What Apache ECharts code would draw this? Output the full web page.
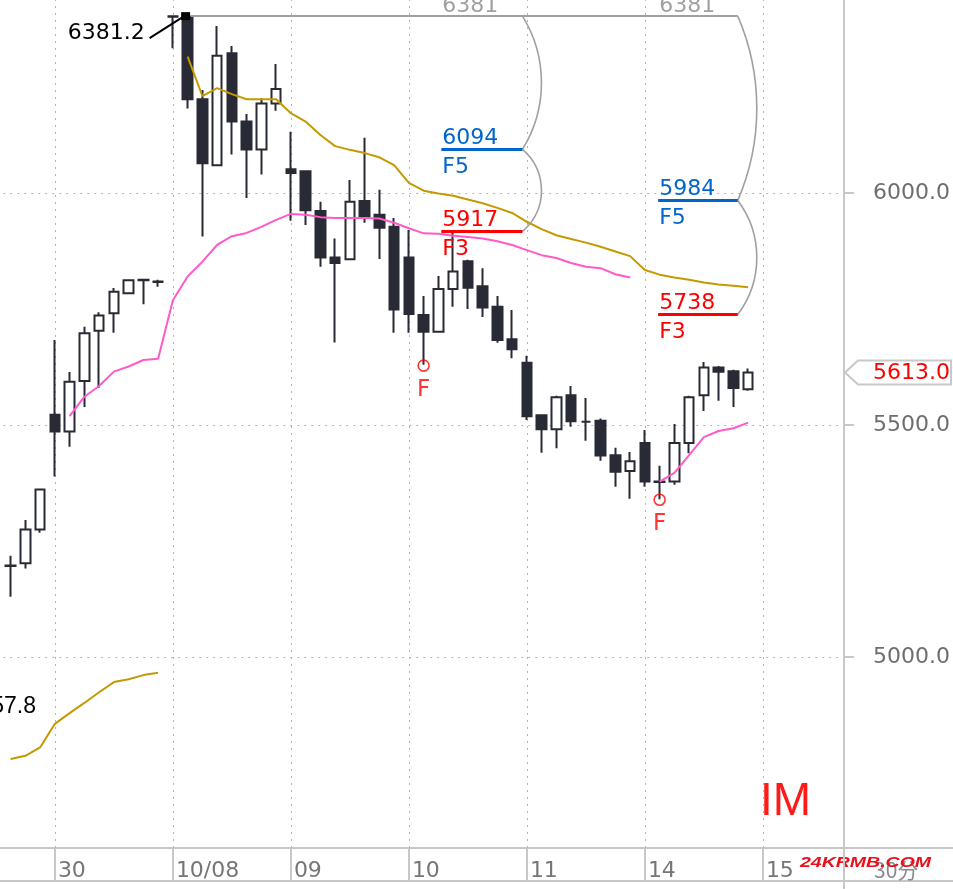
<!DOCTYPE html>
<html><head><meta charset="utf-8">
<script src="https://cdn.jsdelivr.net/npm/echarts@6/dist/echarts.min.js"></script>
<style>html,body{margin:0;padding:0;background:#fff}#c{width:953px;height:889px}</style>
</head><body><div id="c"></div>
<script>
// ---------- data ----------
const days = ['09/27','09/30','10/08','10/09','10/10','10/11','10/14','10/15'];
const barTimes = ['10:00','10:30','11:00','11:30','13:30','14:00','14:30','15:00'];
const dayTickLabels = ['', '30', '10/08', '09', '10', '11', '14', '15'];

const opens  = [5197,5202,5275, 5522,5486,5595,5703,5741,5784,5812,5809, 6381,6380,6202,6060,6301,6154,6094,6193, 6051,6047,5961,5861,5857,5983,5953,5927, 5861,5737,5701,5793,5853,5799,5755,5685, 5634,5521,5491,5564,5507,5509,5435,5401, 5461,5377,5378,5461,5564,5624,5616,5577];
const closes = [5196,5275,5361, 5486,5593,5698,5736,5787,5812,5813,5808, 6380,6202,6064,6296,6154,6094,6193,6224, 6043,5963,5861,5849,5981,5949,5925,5749, 5739,5701,5793,5831,5796,5753,5683,5663, 5519,5491,5560,5508,5507,5434,5399,5422, 5378,5378,5461,5560,5624,5615,5580,5613];
const lows   = [5130,5191,5268, 5389,5453,5539,5580,5699,5782,5760,5798, 6312,6182,5906,6058,6083,5989,6040,6177, 5940,5931,5841,5678,5856,5936,5858,5699, 5699,5630,5699,5755,5750,5733,5677,5644, 5511,5440,5450,5496,5466,5423,5367,5341, 5367,5340,5371,5439,5530,5552,5539,5574];
const highs  = [5218,5295,5362, 5683,5614,5712,5743,5795,5813,5814,5813, 6381,6381.2,6222,6360,6317,6170,6204,6278, 6132,6048,5981,5902,6028,6119,6007,5946, 5920,5778,5821,5918,5856,5838,5778,5748, 5649,5521,5563,5584,5558,5514,5451,5442, 5489,5412,5502,5563,5636,5627,5619,5622];

const maGold = [4780,4787,4805, 4856,4879,4901,4924,4946,4952,4961,4966, null,6294,6209,6226,6213,6202,6202,6202, 6172,6154,6125,6101,6093,6086,6077,6060, 6022,6005,5999,5994,5986,5978,5968,5957, 5938,5922,5909,5901,5893,5884,5874,5864, 5834,5824,5818,5813,5807,5803,5800,5797];
const maPink = [null,null,null, null,5519,5561,5584,5615,5626,5640,5643, 5769,5820,5852,5888,5907,5914,5927,5942, 5955,5953,5948,5946,5946,5946,5945,5936, 5924,5913,5912,5908,5905,5902,5896,5888, 5877,5866,5860,5849,5841,5838,5825,5818, null,5378,5397,5435,5474,5487,5493,5505];

const fMarkIdx = [28, 44];
const fMarkVal = [5628, 5339];

const fibStart = [29.2, 43.9];
const fibEnd   = [34.7, 49.3];
const fibF5    = [6094, 5984];
const fibF3    = [5917, 5738];

const yTicksMin = 4500, yTicksMax = 6500, yTickStep = 500;
const xAxisLineValue = 4588.4;
const offLeftLowLabel = '4857.8';

// ---------- build ----------
const FONT = '"DejaVu Sans", "Liberation Sans", sans-serif';
const FONT2 = '"Liberation Sans", Arial, sans-serif';
const categories = [];
const dayStartIdx = [];
const labelOf = {};
days.forEach((d, di) => {
  const times = di === 0 ? barTimes.slice(5) : (di === days.length - 1 ? barTimes.slice(0, 6) : barTimes);
  if (di > 0) { dayStartIdx.push(categories.length); labelOf[categories.length] = dayTickLabels[di]; }
  times.forEach(t => categories.push(d + ' ' + t));
});
const dayStartSet = new Set(dayStartIdx);
const candles = opens.map((o, i) => [o, closes[i], lows[i], highs[i]]);
let highIdx = 0; highs.forEach((h, i) => { if (h > highs[highIdx]) highIdx = i; });
const highVal = highs[highIdx];
const lastClose = closes[closes.length - 1];

function xAt(api, idx) {
  const k = Math.floor(idx);
  const bw = api.size([1, 0])[0];
  return api.coord([k, highVal])[0] + (idx - k) * bw;
}
function arcEl(x, ya, yb, s) {
  const c = yb - ya, R = (c * c / 4 + s * s) / (2 * s), cy = (ya + yb) / 2, cx = x + s - R;
  const th = Math.asin((c / 2) / R);
  return {type: 'arc', shape: {cx: cx, cy: cy, r: R, startAngle: -th, endAngle: th, clockwise: true},
          style: {stroke: '#a0a0a0', lineWidth: 1.6, fill: 'none'}};
}
function txt(x, y, text, color, size, align, fam) {
  return {type: 'text', x: x, y: y, style: {text: text, fill: color, fontSize: size, fontFamily: fam || FONT,
          align: align || 'left', verticalAlign: 'middle', textAlign: align || 'left', textVerticalAlign: 'middle'}};
}

const chart = echarts.init(document.getElementById('c'));
chart.setOption({
  animation: false,
  backgroundColor: '#ffffff',
  grid: {left: 3.25, right: 109, top: -39, bottom: 0, containLabel: false, outerBoundsMode: 'none'},
  xAxis: {
    type: 'category', data: categories, boundaryGap: true, offset: -41,
    axisLine: {show: false},
    axisTick: {show: true, alignWithLabel: true, length: 33, interval: (i) => dayStartSet.has(i),
               lineStyle: {color: '#c8c8c8', width: 2}},
    axisLabel: {show: true, interval: (i) => dayStartSet.has(i), formatter: (v, i) => labelOf[i] || '',
                align: 'left', padding: [0, 0, 0, 3], margin: 12, color: '#767676', fontSize: 22, fontFamily: FONT},
    splitLine: {show: false}
  },
  yAxis: {
    type: 'value', position: 'right', min: yTicksMin, max: yTicksMax, interval: yTickStep,
    axisLine: {show: true, lineStyle: {color: '#c8c8c8', width: 2}},
    axisTick: {show: true, length: 10, lineStyle: {color: '#c8c8c8', width: 2}},
    axisLabel: {margin: 29, color: '#6e6e6e', fontSize: 22, fontFamily: FONT,
                formatter: (v) => v.toFixed(1), showMinLabel: false, showMaxLabel: false},
    splitLine: {show: true, lineStyle: {color: '#b4b4b4', type: [2, 5], width: 1}}
  },
  graphic: [
    {type: 'line', shape: {x1: 0, y1: 848, x2: 953, y2: 848}, style: {stroke: '#c8c8c8', lineWidth: 2}},
    {type: 'line', shape: {x1: 0, y1: 881, x2: 953, y2: 881}, style: {stroke: '#c8c8c8', lineWidth: 2}},
    {type: 'text', x: 36, y: 707, style: {text: offLeftLowLabel, fill: '#000', fontSize: 23, fontFamily: FONT2, align: 'right', verticalAlign: 'middle', textAlign: 'right', textVerticalAlign: 'middle'}},
    {type: 'text', x: 760, y: 802, style: {text: 'IM', fill: '#ff1a1a', fontSize: 46, fontFamily: FONT2, align: 'left', verticalAlign: 'middle', textAlign: 'left', textVerticalAlign: 'middle'}},
    {type: 'text', x: 874, y: 870, style: {text: '30分', fill: '#8a8a8a', fontSize: 21, fontFamily: '"Noto Sans CJK SC", sans-serif', align: 'left', verticalAlign: 'middle', textAlign: 'left', textVerticalAlign: 'middle'}},
    {type: 'text', x: 800, y: 863, scaleX: 1.3, style: {text: '24KRMB.COM', fill: '#e8101a', fontSize: 15, fontWeight: 'bold', fontStyle: 'italic', fontFamily: FONT2, align: 'left', verticalAlign: 'middle', textAlign: 'left', textVerticalAlign: 'middle', textShadowColor: 'rgba(255,80,120,0.6)', textShadowOffsetX: 1, textShadowOffsetY: 1, textShadowBlur: 0}}
  ],
  series: [
    {
      type: 'line', data: [], z: 1, silent: true, symbol: 'none',
      markLine: {
        silent: true, symbol: 'none', label: {show: false}, animation: false, z: 1,
        lineStyle: {color: '#b4b4b4', type: [2, 5], width: 1},
        data: dayStartIdx.map(k => [{coord: [k, xAxisLineValue]}, {coord: [k, yTicksMax]}])
      }
    },
    {
      type: 'candlestick', name: 'IM', data: candles, barWidth: 10, z: 2, silent: true,
      itemStyle: {color: '#ffffff', color0: '#282a36', borderColor: '#282a36', borderColor0: '#282a36', borderWidth: 2}
    },
    {type: 'line', data: maGold, symbol: 'none', showSymbol: false, connectNulls: false, z: 3, silent: true,
     lineStyle: {color: '#c49a00', width: 2}, itemStyle: {color: '#c49a00'}},
    {type: 'line', data: maPink, symbol: 'none', showSymbol: false, connectNulls: false, z: 3, silent: true,
     lineStyle: {color: '#ff5ac8', width: 2}, itemStyle: {color: '#ff5ac8'}},
    {type: 'scatter', data: fMarkIdx.map((k, i) => [k, fMarkVal[i]]), symbol: 'circle', symbolSize: 11, z: 4, silent: true,
     itemStyle: {color: 'rgba(0,0,0,0)', borderColor: '#ff0000', borderWidth: 1.6},
     label: {show: true, formatter: 'F', position: 'bottom', distance: 7, color: '#ff0000', fontSize: 23, fontFamily: FONT}},
    {
      type: 'custom', z: 5, silent: true, data: [[highIdx, highVal]],
      renderItem: function (params, api) {
        const ch = [];
        const p = api.coord([highIdx, highVal]);
        const hx = p[0] - 2, ty = p[1];
        ch.push({type: 'rect', shape: {x: hx - 4.5, y: ty - 4, width: 9, height: 8}, style: {fill: '#000'}});
        ch.push({type: 'line', shape: {x1: hx - 3, y1: ty + 1, x2: hx - 36, y2: ty + 22}, style: {stroke: '#000', lineWidth: 2}});
        ch.push(txt(hx - 41, ty + 17, highVal.toFixed(1), '#000', 22, 'right'));
        const endX = xAt(api, fibEnd[fibEnd.length - 1]);
        ch.push({type: 'line', shape: {x1: hx + 5, y1: ty, x2: endX, y2: ty}, style: {stroke: '#a0a0a0', lineWidth: 2}});
        for (let g = 0; g < fibStart.length; g++) {
          const x1 = xAt(api, fibStart[g]), x2 = xAt(api, fibEnd[g]);
          const y5 = api.coord([highIdx, fibF5[g]])[1], y3 = api.coord([highIdx, fibF3[g]])[1];
          ch.push(txt(x1 + 1, ty - 10, String(Math.floor(highVal)), '#a0a0a0', 22));
          ch.push(arcEl(x2, ty, y5, 19));
          ch.push(arcEl(x2, y5, y3, 19));
          ch.push({type: 'line', shape: {x1: x1, y1: y5, x2: x2, y2: y5}, style: {stroke: '#0066cc', lineWidth: 3}});
          ch.push({type: 'line', shape: {x1: x1, y1: y3, x2: x2, y2: y3}, style: {stroke: '#ff0000', lineWidth: 3}});
          ch.push(txt(x1 + 1, y5 - 11, String(fibF5[g]), '#0066cc', 22));
          ch.push(txt(x1 + 1, y5 + 18, 'F5', '#0066cc', 22));
          ch.push(txt(x1 + 1, y3 - 11, String(fibF3[g]), '#ff0000', 22));
          ch.push(txt(x1 + 1, y3 + 18, 'F3', '#ff0000', 22));
        }
        return {type: 'group', children: ch};
      }
    },
    {
      type: 'custom', z: 6, silent: true, clip: false, data: [[closes.length - 1, lastClose]],
      renderItem: function (params, api) {
        const y = api.coord([closes.length - 1, lastClose])[1];
        const ax = params.coordSys.x + params.coordSys.width;
        return {type: 'group', children: [
          {type: 'polygon', shape: {points: [[ax + 1, y], [ax + 14, y - 12], [951, y - 12], [951, y + 12], [ax + 14, y + 12]]},
           style: {fill: '#ffffff', stroke: '#c8c8c8', lineWidth: 2}},
          txt(ax + 29, y + 1, lastClose.toFixed(1), '#ff0000', 22)
        ]};
      }
    }
  ]
});
</script>
</body></html>
